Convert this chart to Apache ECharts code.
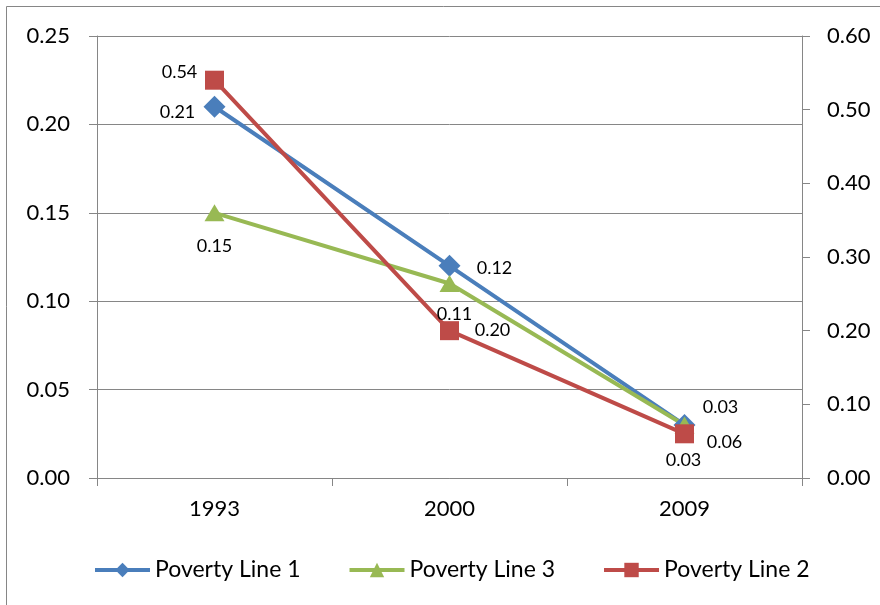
<!DOCTYPE html>
<html>
<head>
<meta charset="utf-8">
<script src="https://cdn.jsdelivr.net/npm/echarts@6/dist/echarts.min.js"></script>
<style>
  html, body { margin: 0; padding: 0; background: #fff; }
  #chart { width: 880px; height: 605px; }
</style>
</head>
<body>
<div id="chart"></div>
<script>
// values
const years = ['1993', '2000', '2009'];
const povertyLine1 = [0.21, 0.12, 0.03];   // left axis
const povertyLine3 = [0.15, 0.11, 0.03];   // left axis
const povertyLine2 = [0.54, 0.20, 0.06];   // right axis

const FONT = 'Lato';
const AXIS_GREY = '#868686';

// label placement per point, as pixel shift from the marker centre
const offsets1 = [[-37, 5], [45, 2], [36, -18]];
const offsets3 = [[0, 33], [5, 31], [-1, 35]];
const offsets2 = [[-35, -8], [43, 0], [40, 8]];

function points(values, offsets) {
  return values.map((v, i) => ({
    value: v,
    label: { offset: offsets[i] }
  }));
}

function lineSeries(name, values, offsets, color, symbol, size, yAxisIndex) {
  return {
    name,
    type: 'line',
    yAxisIndex,
    data: points(values, offsets),
    symbol,
    symbolSize: size,
    lineStyle: { width: 4, color },
    itemStyle: { color },
    label: {
      show: true,
      position: 'inside',
      color: '#000',
      fontFamily: FONT,
      fontSize: 18,
      formatter: (p) => p.value.toFixed(2)
    },
    emphasis: { disabled: true },
    animation: false
  };
}

const chart = echarts.init(document.getElementById('chart'), null, { renderer: 'canvas' });

chart.setOption({
  animation: false,
  textStyle: { fontFamily: FONT },
  grid: { left: 97, right: 78, top: 36, bottom: 127 },
  graphic: [{
    type: 'rect',
    shape: { x: 6.5, y: 6.5, width: 900, height: 700 },
    style: { fill: 'none', stroke: AXIS_GREY, lineWidth: 1 },
    silent: true
  }],
  legend: {
    left: 93,
    top: 556,
    padding: 0,
    itemWidth: 55,
    itemHeight: 18,
    itemGap: 47,
    lineStyle: { width: 4 },
    textStyle: { fontFamily: FONT, fontSize: 23, color: '#000', lineHeight: 28 },
    data: ['Poverty Line 1', 'Poverty Line 3', 'Poverty Line 2']
  },
  xAxis: {
    type: 'category',
    data: years,
    boundaryGap: true,
    axisLine: { lineStyle: { color: AXIS_GREY, width: 1 } },
    axisTick: { show: true, length: 8, lineStyle: { color: AXIS_GREY } },
    axisLabel: { color: '#000', fontFamily: FONT, fontSize: 22, margin: 20 },
    splitLine: { show: false }
  },
  yAxis: [{
    type: 'value',
    min: 0,
    max: 0.25,
    interval: 0.05,
    position: 'left',
    axisLine: { show: true, lineStyle: { color: AXIS_GREY, width: 1 } },
    axisTick: { show: true, length: 8, lineStyle: { color: AXIS_GREY } },
    axisLabel: { color: '#000', fontFamily: FONT, fontSize: 22, margin: 27, formatter: (v) => v.toFixed(2) },
    splitLine: { show: true, lineStyle: { color: AXIS_GREY, width: 1 } }
  }, {
    type: 'value',
    min: 0,
    max: 0.6,
    interval: 0.1,
    position: 'right',
    axisLine: { show: true, lineStyle: { color: AXIS_GREY, width: 1 } },
    axisTick: { show: true, length: 8, lineStyle: { color: AXIS_GREY } },
    axisLabel: { color: '#000', fontFamily: FONT, fontSize: 22, margin: 25, formatter: (v) => v.toFixed(2) },
    splitLine: { show: false }
  }],
  series: [
    lineSeries('Poverty Line 1', povertyLine1, offsets1, '#4A7EBB', 'diamond', 22, 0),
    lineSeries('Poverty Line 3', povertyLine3, offsets3, '#98B954', 'triangle', [20, 17], 0),
    lineSeries('Poverty Line 2', povertyLine2, offsets2, '#BE4B48', 'rect', 19, 1)
  ]
});
</script>
</body>
</html>
